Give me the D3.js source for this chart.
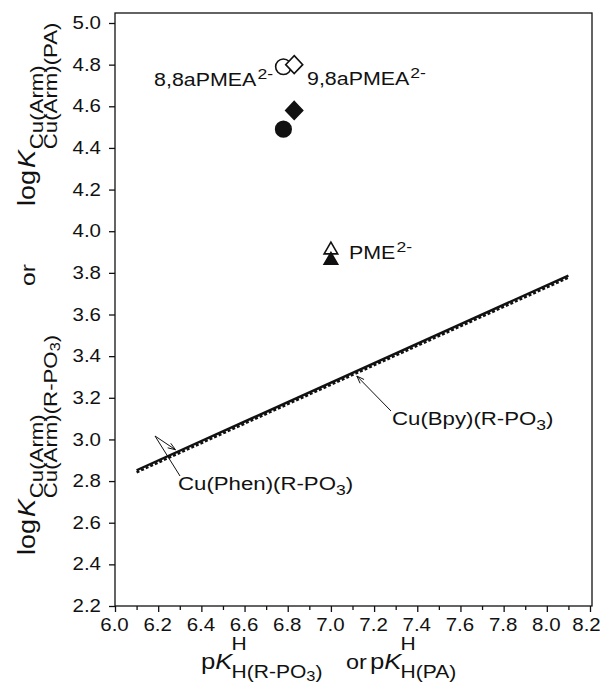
<!DOCTYPE html>
<html>
<head>
<meta charset="utf-8">
<script src="https://cdn.jsdelivr.net/npm/d3@7"></script>
<style>
  html, body { margin: 0; padding: 0; background: #fff; }
  svg text { font-family: "Liberation Sans", Arial, Helvetica, sans-serif; fill: #111; }
</style>
</head>
<body>
<svg id="chart" width="600" height="683"></svg>
<script>
// ---------- data ----------
const xTicks = [6.0, 6.2, 6.4, 6.6, 6.8, 7.0, 7.2, 7.4, 7.6, 7.8, 8.0, 8.2];
const xMinorTicks = [6.1, 6.3, 6.5, 6.7, 6.9, 7.1, 7.3, 7.5, 7.7, 7.9, 8.1];
const yTicks = [2.2, 2.4, 2.6, 2.8, 3.0, 3.2, 3.4, 3.6, 3.8, 4.0, 4.2, 4.4, 4.6, 4.8, 5.0];

// points: [pKa, logK]
const openCircle    = [[6.78, 4.79]];
const filledCircle  = [[6.78, 4.49]];
const openDiamond   = [[6.83, 4.80]];
const filledDiamond = [[6.83, 4.58]];
const openTriangle  = [[7.00, 3.91]];
const filledTriangle= [[7.00, 3.86]];

// reference lines (endpoints)
const phenLine = [[6.1, 2.852], [8.1, 3.787]];
const bpyLine  = [[6.1, 2.842], [8.1, 3.777]];

// ---------- layout ----------
const SX = 1.17; // horizontal glyph stretch (wide Helvetica look)
const svg = d3.select("#chart");
const L = 115, R = 592, T = 13, B = 606;
const x = d3.scaleLinear().domain([6.0, 8.2]).range([115, 590]);
const y = d3.scaleLinear().domain([2.2, 5.0]).range([606, 23]);

function txt(parent, px, py, s, o = {}) {
  const t = parent.append("text")
    .attr("transform", `translate(${px},${py}) scale(${SX},1)`)
    .attr("font-size", o.size || 18)
    .attr("font-style", o.italic ? "italic" : "normal")
    .attr("text-anchor", o.anchor || "start")
    .text(s);
  return t.node().getComputedTextLength() * SX;
}

// frame
svg.append("rect").attr("x", L).attr("y", T).attr("width", R - L).attr("height", B - T)
  .attr("fill", "none").attr("stroke", "#111").attr("stroke-width", 1.3);

const fmt = d3.format(".1f");
// x axis
const xAxis = svg.append("g").attr("transform", `translate(0,${B})`)
  .call(d3.axisBottom(x).tickValues(xTicks).tickFormat(fmt).tickSize(6).tickPadding(7));
xAxis.select(".domain").remove();
xAxis.selectAll("line").attr("stroke", "#111").attr("stroke-width", 1.3);
xAxis.selectAll("text").attr("font-size", 17.5).attr("fill", "#111")
  .attr("font-family", "Liberation Sans, Arial, sans-serif")
  .attr("transform", (d, i) => `translate(${i === xTicks.length - 1 ? -4 : -1},0) scale(${SX},1)`);
const xMinor = svg.append("g").attr("transform", `translate(0,${B})`)
  .call(d3.axisBottom(x).tickValues(xMinorTicks).tickFormat("").tickSize(4));
xMinor.select(".domain").remove();
xMinor.selectAll("line").attr("stroke", "#111").attr("stroke-width", 1.3);

// y axis
const yAxis = svg.append("g").attr("transform", `translate(${L},0)`)
  .call(d3.axisLeft(y).tickValues(yTicks).tickFormat(fmt).tickSize(6).tickPadding(6));
yAxis.select(".domain").remove();
yAxis.selectAll("line").attr("stroke", "#111").attr("stroke-width", 1.3);
yAxis.selectAll("text").attr("font-size", 17.5).attr("fill", "#111")
  .attr("font-family", "Liberation Sans, Arial, sans-serif")
  .attr("transform", `scale(${SX},1)`);

// lines
const line = d3.line().x(d => x(d[0])).y(d => y(d[1]));
svg.append("path").datum(bpyLine).attr("d", line)
  .attr("fill", "none").attr("stroke", "#111").attr("stroke-width", 2.4)
  .attr("stroke-dasharray", "3,2");
svg.append("path").datum(phenLine).attr("d", line)
  .attr("fill", "none").attr("stroke", "#111").attr("stroke-width", 2.4);

// markers
function drawPath(data, pathStr, filled) {
  svg.selectAll(null).data(data).enter().append("path")
    .attr("transform", d => `translate(${x(d[0])},${y(d[1])})`)
    .attr("d", pathStr)
    .attr("fill", filled ? "#111" : "#fff")
    .attr("stroke", "#111").attr("stroke-width", 1.6);
}
const circlePath = d3.symbol().type(d3.symbolCircle).size(190)();
const diamondPath = "M0,-9L8.5,0L0,9L-8.5,0Z";
const triPath = d3.symbol().type(d3.symbolTriangle).size(80)();
drawPath(openCircle, circlePath, false);
drawPath(filledCircle, circlePath, true);
drawPath(openDiamond, diamondPath, false);
drawPath(filledDiamond, diamondPath, true);
drawPath(openTriangle, triPath, false);
drawPath(filledTriangle, triPath, true);

// point labels with superscript
function supLabel(px, py, main, sup, anchorEnd) {
  const g = svg.append("g");
  const w1 = txt(g, 0, 0, main, {size: 18.3});
  const w2 = txt(g, w1 + 1, -7, sup, {size: 15});
  const w = w1 + 1 + w2;
  g.attr("transform", `translate(${anchorEnd ? px - w : px},${py})`);
}
supLabel(273, 86, "8,8aPMEA", "2-", true);
supLabel(307, 85, "9,8aPMEA", "2-", false);
supLabel(349, 259, "PME", "2-", false);

// annotation labels
function subLabel(px, py, a, sub, b) {
  const g = svg.append("g").attr("transform", `translate(${px},${py})`);
  let cx = txt(g, 0, 0, a, {size: 19});
  cx += txt(g, cx, 5, sub, {size: 15});
  txt(g, cx, 0, b, {size: 19});
}
subLabel(392, 425, "Cu(Bpy)(R-PO", "3", ")");
subLabel(178, 490, "Cu(Phen)(R-PO", "3", ")");

function lineAt(ln, v) {
  const [p0, p1] = ln;
  return p0[1] + (v - p0[0]) * (p1[1] - p0[1]) / (p1[0] - p0[0]);
}
function arrow(x1, y1, x2, y2) {
  svg.append("line").attr("x1", x1).attr("y1", y1).attr("x2", x2).attr("y2", y2)
    .attr("stroke", "#111").attr("stroke-width", 1);
  const ang = Math.atan2(y2 - y1, x2 - x1);
  const len = 8, spread = 0.35;
  const a1 = [x2 - len * Math.cos(ang - spread), y2 - len * Math.sin(ang - spread)];
  const a2 = [x2 - len * Math.cos(ang + spread), y2 - len * Math.sin(ang + spread)];
  svg.append("path").attr("d", `M${a1[0]},${a1[1]}L${x2},${y2}L${a2[0]},${a2[1]}`)
    .attr("fill", "none").attr("stroke", "#111").attr("stroke-width", 1);
}
const bx = 7.12;
arrow(391, 411, x(bx), y(lineAt(bpyLine, bx)) + 3);
const phx = 6.28;
svg.append("path").attr("d", `M180,476L155,436`).attr("fill", "none")
  .attr("stroke", "#111").attr("stroke-width", 1);
arrow(155, 436, x(phx), y(lineAt(phenLine, phx)) - 3);

// ---------- x title ----------
(function () {
  const g = svg.append("g");
  const base = 669;
  function pK(x0, subParts) {
    let cx = x0;
    cx += txt(g, cx, base, "p", {size: 22});
    cx += txt(g, cx, base, "K", {size: 22, italic: true});
    const s0 = cx - 1;
    txt(g, s0, base - 19, "H", {size: 18});
    let sx = s0;
    subParts.forEach(p => {
      sx += txt(g, sx, base + 9 + (p.low ? 3 : 0), p.t, {size: p.low ? 14 : 18});
    });
  }
  pK(201, [{t: "H(R-PO"}, {t: "3", low: true}, {t: ")"}]);
  txt(g, 346, base, "or", {size: 20});
  pK(370, [{t: "H(PA)"}]);
})();

// ---------- y title (rotated, reads bottom to top) ----------
(function () {
  const g = svg.append("g").attr("transform", `translate(35,0) rotate(-90)`);
  // local x = -screenY ; local y = screenX - 35
  function logK(startY, subParts) {
    let cx = -startY;
    cx += txt(g, cx, 0, "log", {size: 23});
    cx += 2;
    cx += txt(g, cx, 0, "K", {size: 23, italic: true});
    const s0 = cx + 1;
    txt(g, s0, 8, "Cu(Arm)", {size: 19});
    let sx = s0;
    subParts.forEach(p => {
      sx += txt(g, sx, 22 + (p.low ? 3 : 0), p.t, {size: p.low ? 14 : 19});
    });
  }
  logK(555, [{t: "Cu(Arm)(R-PO"}, {t: "3", low: true}, {t: ")"}]);
  txt(g, -286, 0, "or", {size: 21});
  logK(206, [{t: "Cu(Arm)(PA)"}]);
})();
</script>
</body>
</html>
